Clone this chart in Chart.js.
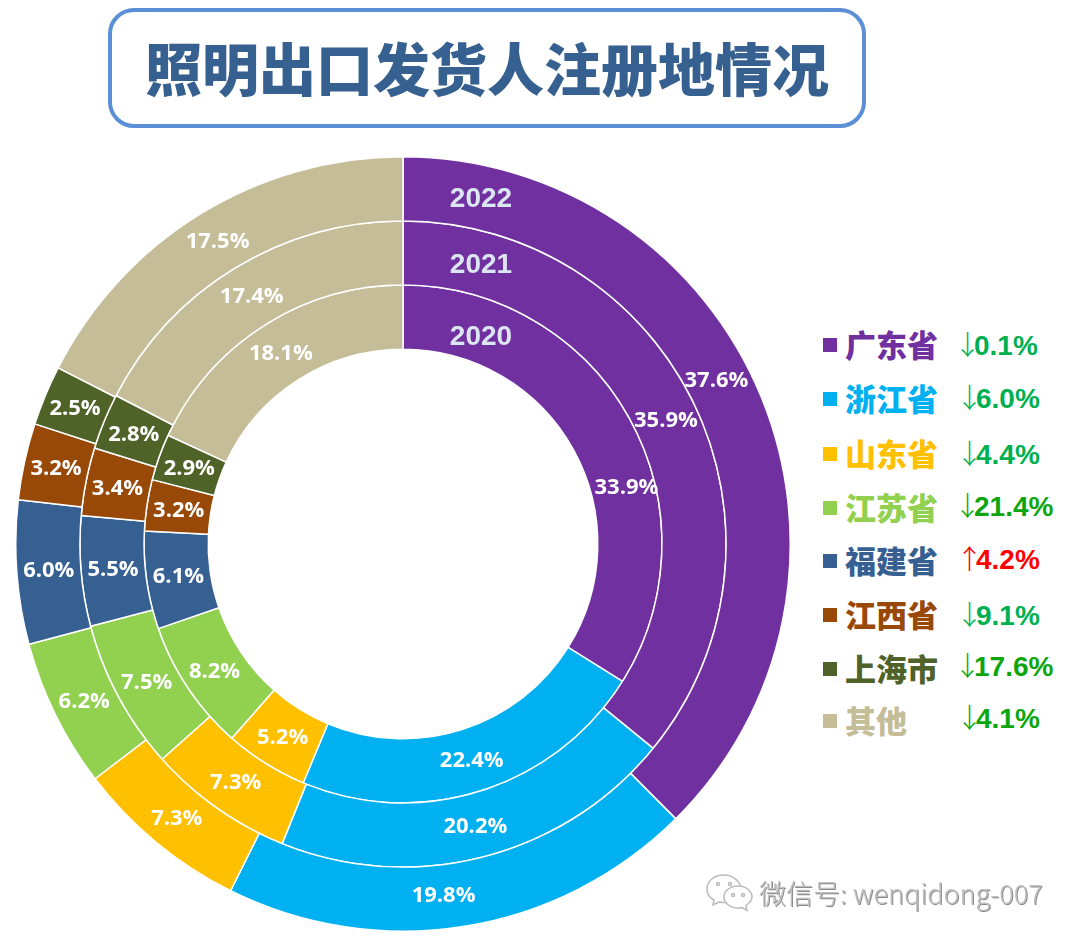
<!DOCTYPE html>
<html>
<head>
<meta charset="utf-8">
<title>照明出口发货人注册地情况</title>
<script src="https://cdn.jsdelivr.net/npm/chart.js@4"></script>
<style>
html, body { margin: 0; padding: 0; background: #fff; }
#page { position: relative; width: 1080px; height: 945px; overflow: hidden; }
#titulo {
    position: absolute; left: 108px; top: 8px; width: 750px; height: 112px;
    border: 4px solid #5b8fd6; border-radius: 26px;
    text-align: center; color: #36608f; white-space: nowrap;
    font: 900 57px/108px "Noto Sans CJK SC";
}
#contenedor { position: absolute; left: 15px; top: 156px; width: 776px; height: 776px; }
.cuadro { position: absolute; left: 823px; width: 14px; height: 14px; }
.nombre { position: absolute; left: 845px; font: 900 31px/36px "Noto Sans CJK SC"; white-space: nowrap; }
.cambio { position: absolute; font: bold 28px/32px "Liberation Sans"; white-space: nowrap; }
.flecha { font: 300 27px/32px "Noto Sans CJK SC"; margin-right: -7px; }
#marca {
    position: absolute; left: 759px; top: 875px; color: #c0c0c0; white-space: nowrap;
    font: 300 27px/36px "Noto Sans CJK SC"; text-shadow: 1px 1px 0 #8a8a8a;
}
#icono { position: absolute; left: 705px; top: 872px; }
</style>
</head>
<body>
<div id="page">
    <div id="titulo">照明出口发货人注册地情况</div>
    <div id="contenedor"><canvas id="grafico"></canvas></div>
    <div id="leyenda"></div>
    <svg id="icono" width="50" height="44" viewBox="0 0 50 44" fill="#fff" stroke="#bbb" stroke-width="1.5">
        <path d="M19 3C9 3 2 9 2 17c0 5 3 9 7 11l-1 5 6-3c2 .5 3 .5 5 .5 9 0 17-6 17-13S29 3 19 3z"/>
        <path d="M33 14c-8 0-14 5-14 11s6 11 14 11c1 0 3 0 4-.5l5 3-1-5c3-2 6-5 6-8.500 0-6-6-11-14-11z"/>
        <circle cx="13" cy="12" r="1.500"/><circle cx="25" cy="12" r="1.500"/>
        <circle cx="28" cy="23" r="1.500"/><circle cx="38" cy="23" r="1.500"/>
    </svg>
    <div id="marca">微信号: wenqidong-007</div>
</div>
<script>
var provincias = ["广东省", "浙江省", "山东省", "江苏省", "福建省", "江西省", "上海市", "其他"];
var anios = ["2022", "2021", "2020"];
var valores2022 = [37.6, 19.8, 7.3, 6.2, 6.0, 3.2, 2.5, 17.5];
var valores2021 = [35.9, 20.2, 7.3, 7.5, 5.5, 3.4, 2.8, 17.4];
var valores2020 = [33.9, 22.4, 5.2, 8.2, 6.1, 3.2, 2.9, 18.1];
var flechas = ["↓", "↓", "↓", "↓", "↑", "↓", "↓", "↓"];
var cambios = ["0.1%", "6.0%", "4.4%", "21.4%", "4.2%", "9.1%", "17.6%", "4.1%"];

var colores = ["#7030a0", "#00b0f0", "#ffc000", "#92d050", "#376092", "#984807", "#4f6228", "#c4bd97"];
var coloresCambio = ["#00b050", "#00b050", "#00b050", "#0ca60c", "#ff0000", "#00b050", "#0ca60c", "#0ca60c"];

// posiciones de la leyenda
var filasY = [344, 398, 453, 507, 560, 614, 668, 720];
var cambioX = [954, 956, 956, 954, 956, 956, 954, 956];
var cambioY = [344, 397, 453, 505, 558, 614, 665, 717];

// etiquetas que en el original no van centradas en su sector: "anillo:sector" -> [dx, dy]
var ajustes = { "2:0": [25, 53], "0:0": [-15, -29], "0:1": [-16, 0] };
var aniosDy = [10, 12, 20];
var aniosDx = 78;

function crearLeyenda()
{
    var html = "";
    for (var i = 0; i < provincias.length; i++) {
        html += '<div class="cuadro" style="top:' + (filasY[i] - 6) + 'px;background:' + colores[i] + '"></div>';
        html += '<div class="nombre" style="top:' + (filasY[i] - 18) + 'px;color:' + colores[i] + '">' + provincias[i] + '</div>';
        html += '<div class="cambio" style="left:' + cambioX[i] + 'px;top:' + (cambioY[i] - 16) + 'px;color:' + coloresCambio[i] + '">' +
                '<span class="flecha">' + flechas[i] + '</span>' + cambios[i] + '</div>';
    }
    document.getElementById("leyenda").innerHTML = html;
}

var etiquetas = {
    id: "etiquetas",
    afterDatasetsDraw: function(chart)
    {
        var ctx = chart.ctx;
        ctx.save();
        ctx.textAlign = "center";
        ctx.textBaseline = "middle";
        chart.data.datasets.forEach(function(ds, d) {
            var arcos = chart.getDatasetMeta(d).data;
            ctx.fillStyle = "#fff";
            ctx.font = 'bold 22px "Open Sans"';
            arcos.forEach(function(arco, i) {
                var p = arco.getCenterPoint();
                var aj = ajustes[d + ":" + i] || [0, 0];
                ctx.fillText(ds.data[i].toFixed(1) + "%", p.x + aj[0], p.y + aj[1] + 1);
            });
            var a = arcos[0];
            var r = (a.innerRadius + a.outerRadius) / 2;
            ctx.fillStyle = "#dce6f2";
            ctx.font = 'bold 28px "Liberation Sans"';
            ctx.fillText(anios[d], a.x + aniosDx, a.y - r + aniosDy[d]);
        });
        ctx.restore();
    }
};

crearLeyenda();

function anillo(valores, etiqueta)
{
    return { label: etiqueta, data: valores, backgroundColor: colores, borderColor: "#fff", borderWidth: 1.5 };
}

new Chart(document.getElementById("grafico"), {
    type: "doughnut",
    data: {
        labels: provincias,
        datasets: [anillo(valores2022, anios[0]), anillo(valores2021, anios[1]), anillo(valores2020, anios[2])]
    },
    options: {
        responsive: true,
        maintainAspectRatio: false,
        animation: false,
        cutout: "50.3%",
        layout: { padding: 0 },
        events: [],
        plugins: { legend: { display: false }, tooltip: { enabled: false } }
    },
    plugins: [etiquetas]
});
</script>
</body>
</html>
